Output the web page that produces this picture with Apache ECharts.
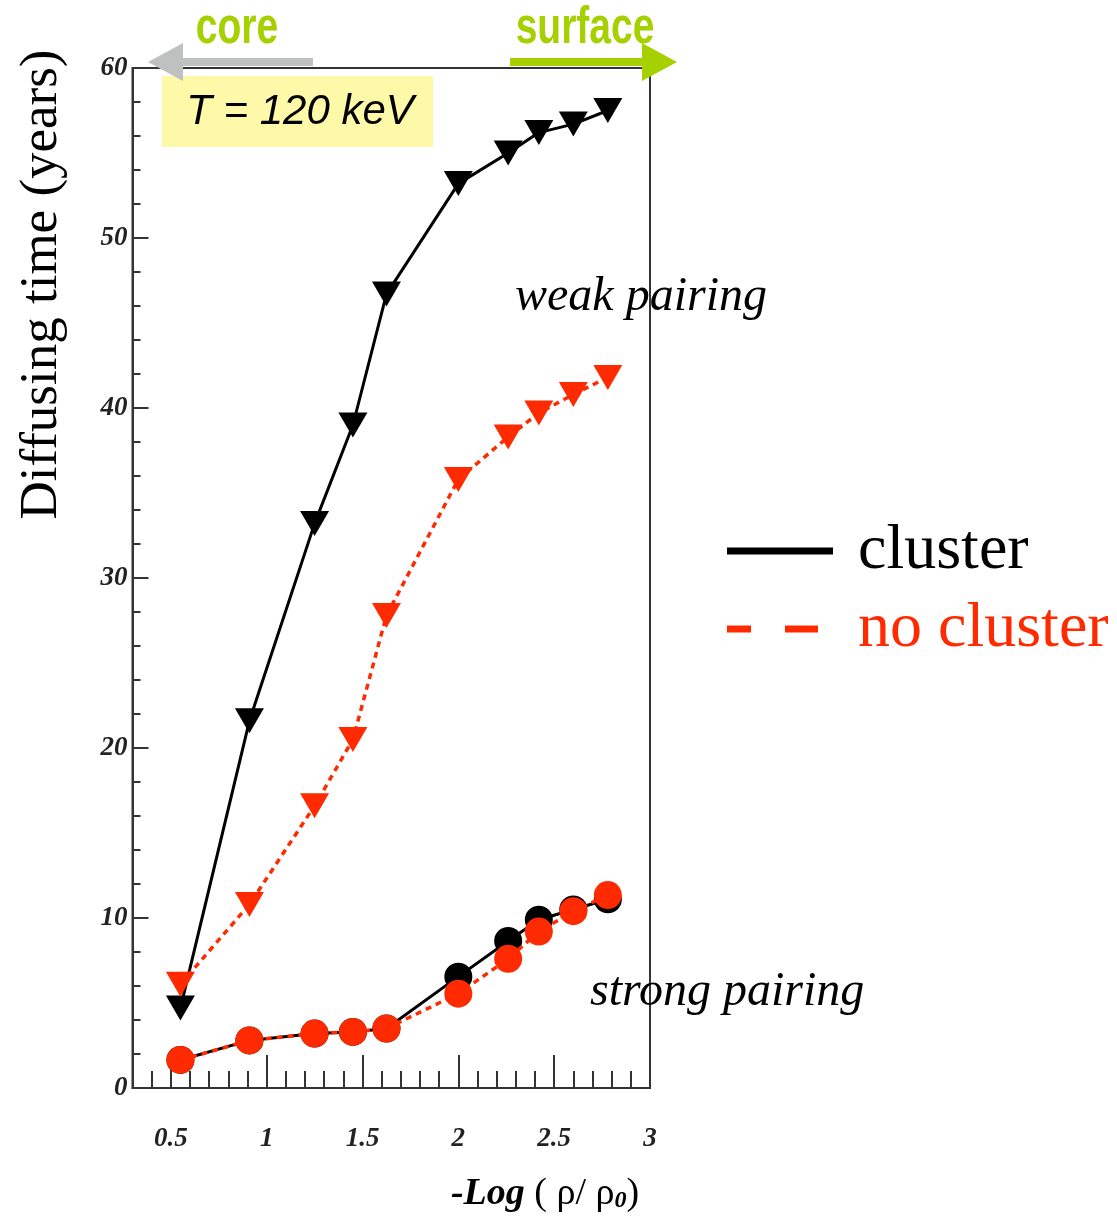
<!DOCTYPE html>
<html>
<head>
<meta charset="utf-8">
<script src="https://cdn.jsdelivr.net/npm/echarts@6/dist/echarts.min.js"></script>
<style>html,body{margin:0;padding:0;background:#fff}#c{width:1117px;height:1216px}</style>
</head>
<body>
<div id="c"></div>
<script>
// ---- data ----
const xVals = [0.55, 0.91, 1.25, 1.45, 1.625, 2.0, 2.26, 2.42, 2.6, 2.78];
const weakCluster = [4.7, 21.6, 33.2, 39.0, 46.7, 53.2, 55.0, 56.2, 56.7, 57.5];
const weakNoCluster = [6.1, 10.8, 16.6, 20.5, 27.8, 35.8, 38.3, 39.7, 40.8, 41.8];
const strongCluster = [1.65, 2.8, 3.2, 3.3, 3.5, 6.55, 8.65, 9.9, 10.5, 11.1];
const strongNoCluster = [1.65, 2.8, 3.2, 3.3, 3.5, 5.55, 7.6, 9.2, 10.4, 11.35];
const xLabelValues = [0.5, 1, 1.5, 2, 2.5, 3];
const xMajorTicks = [0.5, 1, 1.5, 2, 2.5];
const xMinorTicks = [0.4, 0.6, 0.7, 0.8, 0.9, 1.1, 1.2, 1.3, 1.4, 1.6, 1.7, 1.8, 1.9, 2.1, 2.2, 2.3, 2.4, 2.6, 2.7, 2.8, 2.9];
const legendNames = ['cluster', 'no cluster'];

const BLACK = '#000000';
const RED = '#ff2a00';
const AXIS = '#333333';
const pts = arr => xVals.map((x, i) => [x, arr[i]]);
const serif = 'Liberation Serif, Times New Roman, serif';
const sans = 'Liberation Sans, Arial, sans-serif';

const chart = echarts.init(document.getElementById('c'), null, {renderer: 'canvas'});
const axisLabelStyle = {fontFamily: serif, fontStyle: 'italic', fontWeight: 'bold', fontSize: 27, color: '#222'};

const option = {
  backgroundColor: '#fff',
  animation: false,
  grid: {left: 132.5, right: 467, top: 68, bottom: 128, show: true, borderColor: AXIS, borderWidth: 2, backgroundColor: 'transparent', containLabel: false, outerBoundsMode: 'none'},
  xAxis: [
    {
      type: 'value', min: 0.3, max: 3, gridIndex: 0,
      axisLine: {show: true, onZero: false, lineStyle: {color: AXIS, width: 2}},
      axisTick: {show: true, inside: true, length: 17, customValues: xMinorTicks, lineStyle: {color: AXIS, width: 2}},
      axisLabel: Object.assign({show: true, margin: 38, customValues: xLabelValues, formatter: v => String(v)}, axisLabelStyle),
      splitLine: {show: false}
    },
    {
      type: 'value', min: 0.3, max: 3, gridIndex: 0, position: 'bottom',
      axisLine: {show: false},
      axisTick: {show: true, inside: true, length: 33, customValues: xMajorTicks, lineStyle: {color: AXIS, width: 2}},
      axisLabel: {show: false},
      splitLine: {show: false}
    }
  ],
  yAxis: {
    type: 'value', min: 0, max: 60, interval: 10,
    axisLine: {show: true, onZero: false, lineStyle: {color: AXIS, width: 2}},
    axisTick: {show: true, inside: true, length: 16, lineStyle: {color: AXIS, width: 2}},
    minorTick: {show: true, splitNumber: 5, length: 8, lineStyle: {color: AXIS, width: 2}},
    axisLabel: Object.assign({margin: 5}, axisLabelStyle),
    splitLine: {show: false}
  },
  legend: {
    orient: 'vertical', left: 722, top: 514,
    itemWidth: 106, itemHeight: 7, itemGap: 14,
    symbolKeepAspect: false, selectedMode: false,
    itemStyle: {borderWidth: 0},
    textStyle: {fontFamily: serif, fontSize: 64, lineHeight: 62, padding: [0, 0, 0, 20]},
    data: [
      {name: legendNames[0], icon: 'rect', textStyle: {color: BLACK}},
      {name: legendNames[1], icon: 'path://M0,0h24v7h-24z M58,0h33v7h-33z M105.9,0h0.1v0.1h-0.1z', textStyle: {color: RED}}
    ]
  },
  series: [
    {name: legendNames[0], type: 'line', data: pts(weakCluster), symbol: 'triangle', symbolRotate: 180, symbolSize: [29, 25],
      itemStyle: {color: BLACK, borderWidth: 0}, lineStyle: {color: BLACK, width: 3}, z: 3},
    {name: legendNames[1], type: 'line', data: pts(weakNoCluster), symbol: 'triangle', symbolRotate: 180, symbolSize: [29, 25],
      itemStyle: {color: RED, borderWidth: 0}, lineStyle: {color: RED, width: 3.5, type: [6, 5]}, z: 4},
    {name: legendNames[0], type: 'line', data: pts(strongCluster), symbol: 'circle', symbolSize: 28,
      itemStyle: {color: BLACK, borderWidth: 0}, lineStyle: {color: BLACK, width: 3}, z: 3},
    {name: legendNames[1], type: 'line', data: pts(strongNoCluster), symbol: 'circle', symbolSize: 28,
      itemStyle: {color: RED, borderWidth: 0}, lineStyle: {color: RED, width: 3.5, type: [6, 5]}, z: 4}
  ],
  graphic: [
    {type: 'rect', shape: {x: 162, y: 76, width: 271, height: 71}, style: {fill: '#fdf9a8'}, z: 1},
    {type: 'text', z: 10, style: {x: 300, y: 112.5, text: 'T = 120 keV', align: 'center', verticalAlign: 'middle',
      font: 'italic 42px ' + sans, fill: '#000'}},
    {type: 'polygon', z: 10, shape: {points: [[313, 58], [183, 58], [183, 43], [148, 62], [183, 81], [183, 66], [313, 66]]}, style: {fill: '#bfc1c0'}},
    {type: 'polygon', z: 10, shape: {points: [[510, 58], [642, 58], [642, 43], [677, 62], [642, 81], [642, 66], [510, 66]]}, style: {fill: '#a6d000'}},
    {type: 'text', z: 10, x: 237, y: 29, scaleX: 0.75, style: {x: 0, y: 0, text: 'core', align: 'center', verticalAlign: 'middle',
      font: 'bold 52px ' + sans, fill: '#a6d000'}},
    {type: 'text', z: 10, x: 585, y: 29, scaleX: 0.75, style: {x: 0, y: 0, text: 'surface', align: 'center', verticalAlign: 'middle',
      font: 'bold 52px ' + sans, fill: '#a6d000'}},
    {type: 'text', z: 10, style: {x: 515, y: 297, text: 'weak pairing', align: 'left', verticalAlign: 'middle',
      font: 'italic 48px ' + serif, fill: '#000'}},
    {type: 'text', z: 10, style: {x: 590, y: 992, text: 'strong pairing', align: 'left', verticalAlign: 'middle',
      font: 'italic 48px ' + serif, fill: '#000'}},
    {type: 'text', z: 10, x: 42, y: 284.5, rotation: Math.PI / 2, style: {x: 0, y: 0, text: 'Diffusing time (years)', align: 'center', verticalAlign: 'middle',
      font: '53px ' + serif, fill: '#000'}},
    {type: 'text', z: 10, style: {x: 545, y: 1190, align: 'center', verticalAlign: 'middle',
      text: '{a|-Log }{b|( ρ/ ρ}{s|0}{b|)}',
      rich: {
        a: {fontFamily: serif, fontStyle: 'italic', fontWeight: 'bold', fontSize: 38, lineHeight: 46, verticalAlign: 'bottom', fill: '#000'},
        b: {fontFamily: serif, fontSize: 38, lineHeight: 46, verticalAlign: 'bottom', fill: '#000'},
        s: {fontFamily: serif, fontStyle: 'italic', fontWeight: 'bold', fontSize: 24, lineHeight: 24, verticalAlign: 'bottom', fill: '#000'}
      }}}
  ]
};
chart.setOption(option);
</script>
</body>
</html>
